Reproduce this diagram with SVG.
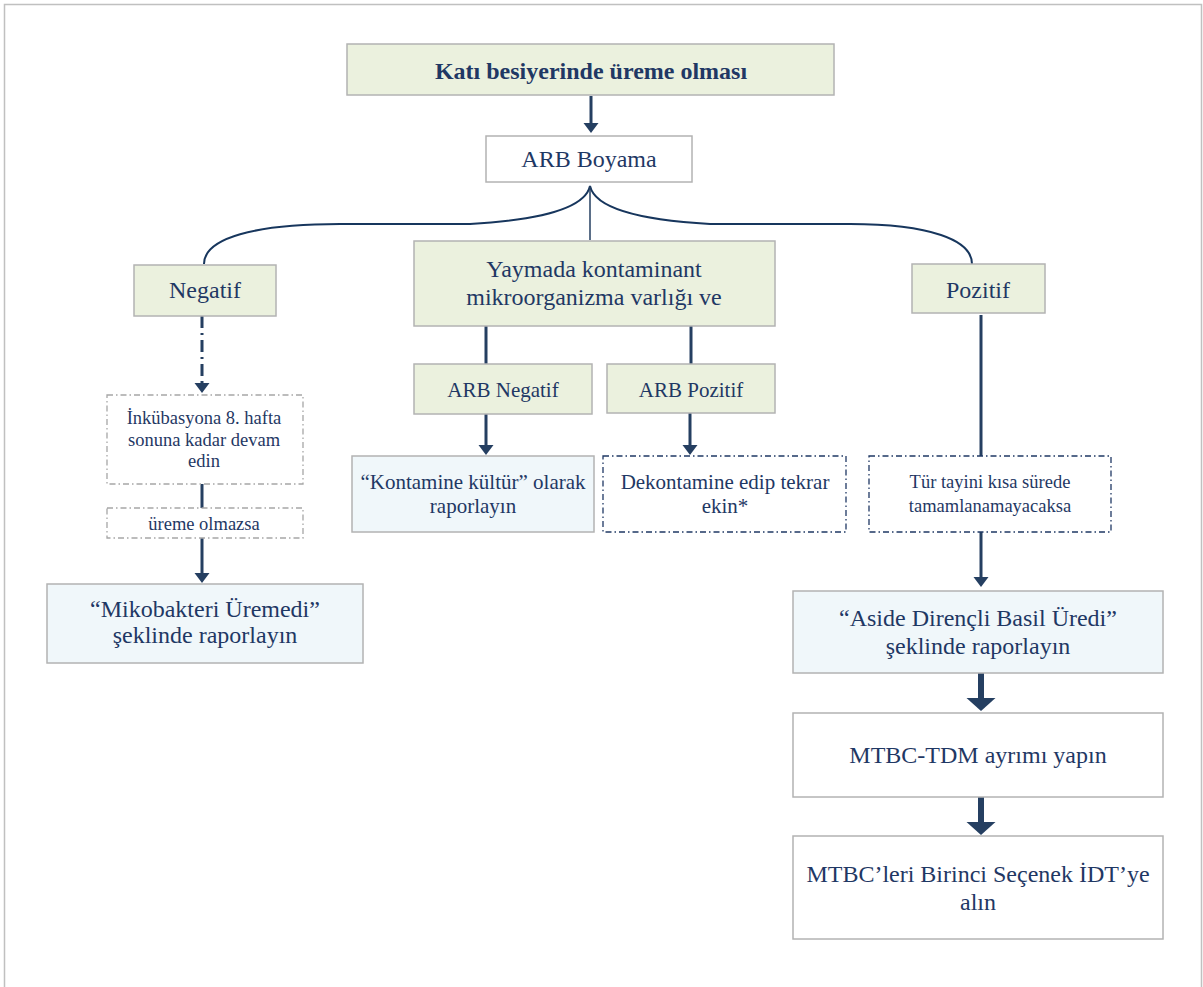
<svg xmlns="http://www.w3.org/2000/svg" width="1203" height="987" viewBox="0 0 1203 987">
<defs>
<style>
.t{font-family:"Liberation Serif","Times New Roman",serif;fill:#1f3864;text-anchor:middle}
.s24{font-size:24px}.s21{font-size:21px}.s18{font-size:18.5px}
.b{font-weight:bold}
.g{fill:#ebf1de;stroke:#b3b3b3;stroke-width:1.5}
.w{fill:#ffffff;stroke:#b3b3b3;stroke-width:1.5}
.l{fill:#f0f7fa;stroke:#b3b3b3;stroke-width:1.5}
.dg{fill:#ffffff;stroke:#a6a6a6;stroke-width:1.3;stroke-dasharray:6 3 1.5 3}
.dn{fill:#ffffff;stroke:#1f3864;stroke-width:1.3;stroke-dasharray:6 3 1.5 3}
.c{fill:none;stroke:#253f61;stroke-width:3}
.ah{fill:#253f61}
</style>
</defs>
<path d="M4.5,987 V4.5 H1201.5 V987" fill="none" stroke="#c0c0c0" stroke-width="1.5"/>
<g id="connectors">
<line class="c" x1="591" y1="96" x2="591" y2="124"/>
<polygon class="ah" points="583.5,123 598.5,123 591,133"/>
<path d="M204,264 C204,238 255,224 340,224 L470,224 C540,220 585,208 590,186 C595,208 640,220 710,224 L850,224 C930,224 972,240 972,264" fill="none" stroke="#17365d" stroke-width="2"/>
<line x1="590" y1="186" x2="590" y2="240" stroke="#253f61" stroke-width="1.5"/>
<line class="c" x1="202" y1="316" x2="202" y2="384" stroke-dasharray="12 5 2 5"/>
<polygon class="ah" points="194.5,383 209.5,383 202,393"/>
<line class="c" x1="202" y1="484" x2="202" y2="508"/>
<line class="c" x1="202" y1="538" x2="202" y2="574"/>
<polygon class="ah" points="194.5,573 209.5,573 202,583"/>
<line class="c" x1="486" y1="326" x2="486" y2="364"/>
<line class="c" x1="691" y1="326" x2="691" y2="364"/>
<line class="c" x1="486" y1="414" x2="486" y2="446"/>
<polygon class="ah" points="478.5,445 493.5,445 486,455"/>
<line class="c" x1="690" y1="413" x2="690" y2="446"/>
<polygon class="ah" points="682.5,445 697.5,445 690,455"/>
<line class="c" x1="981" y1="315" x2="981" y2="456"/>
<line class="c" x1="981" y1="532" x2="981" y2="578"/>
<polygon class="ah" points="973.5,577 988.5,577 981,587"/>
<line x1="981" y1="673" x2="981" y2="699" stroke="#253f61" stroke-width="6"/>
<polygon class="ah" points="966.5,698 995.5,698 981,711"/>
<line x1="981" y1="797" x2="981" y2="823" stroke="#253f61" stroke-width="6"/>
<polygon class="ah" points="966.5,822 995.5,822 981,835"/>
</g>
<g id="n-kati"><rect class="g" x="347" y="44" width="487" height="51"/><text class="t s24 b" x="591" y="79">Katı besiyerinde üreme olması</text></g>
<g id="n-arb"><rect class="w" x="486" y="136" width="206" height="46"/><text class="t s24" x="589" y="167">ARB Boyama</text></g>
<g id="n-negatif"><rect class="g" x="134" y="265" width="142" height="51"/><text class="t s24" x="205" y="298">Negatif</text></g>
<g id="n-yaymada"><rect class="g" x="414" y="241" width="361" height="85"/><text class="t s24" x="594" y="277">Yaymada kontaminant</text><text class="t s24" x="594" y="305">mikroorganizma varlığı ve</text></g>
<g id="n-pozitif"><rect class="g" x="912" y="264" width="133" height="49"/><text class="t s24" x="978" y="298">Pozitif</text></g>
<g id="n-inkubasyon"><rect class="dg" x="107" y="395" width="196" height="89"/><text class="t s18" x="204" y="424">İnkübasyona 8. hafta</text><text class="t s18" x="204" y="446">sonuna kadar devam</text><text class="t s18" x="204" y="467">edin</text></g>
<g id="n-ureme"><rect class="dg" x="107" y="508" width="196" height="30"/><text class="t s18" x="204" y="530">üreme olmazsa</text></g>
<g id="n-mikobakteri"><rect class="l" x="47" y="584" width="316" height="79"/><text class="t s24" x="205" y="617">“Mikobakteri Üremedi”</text><text class="t s24" x="205" y="643">şeklinde raporlayın</text></g>
<g id="n-arbneg"><rect class="g" x="414" y="364" width="178" height="50"/><text class="t s21" x="503" y="397">ARB Negatif</text></g>
<g id="n-arbpoz"><rect class="g" x="607" y="364" width="168" height="49"/><text class="t s21" x="691" y="397">ARB Pozitif</text></g>
<g id="n-kontamine"><rect class="l" x="352" y="456" width="242" height="76"/><text class="t s21" x="473" y="489">“Kontamine kültür” olarak</text><text class="t s21" x="473" y="513">raporlayın</text></g>
<g id="n-dekontamine"><rect class="dn" x="603" y="456" width="243" height="76"/><text class="t s21" x="725" y="489">Dekontamine edip tekrar</text><text class="t s21" x="725" y="513">ekin*</text></g>
<g id="n-tur"><rect class="dn" x="869" y="456" width="242" height="76"/><text class="t s18" x="990" y="488">Tür tayini kısa sürede</text><text class="t s18" x="990" y="512">tamamlanamayacaksa</text></g>
<g id="n-aside"><rect class="l" x="793" y="591" width="370" height="82"/><text class="t s24" x="978" y="626">“Aside Dirençli Basil Üredi”</text><text class="t s24" x="978" y="654">şeklinde raporlayın</text></g>
<g id="n-mtbctdm"><rect class="w" x="793" y="713" width="370" height="84"/><text class="t s24" x="978" y="763">MTBC-TDM ayrımı yapın</text></g>
<g id="n-idt"><rect class="w" x="793" y="836" width="370" height="103"/><text class="t s24" x="978" y="882">MTBC’leri Birinci Seçenek İDT’ye</text><text class="t s24" x="978" y="910">alın</text></g>
</svg>
